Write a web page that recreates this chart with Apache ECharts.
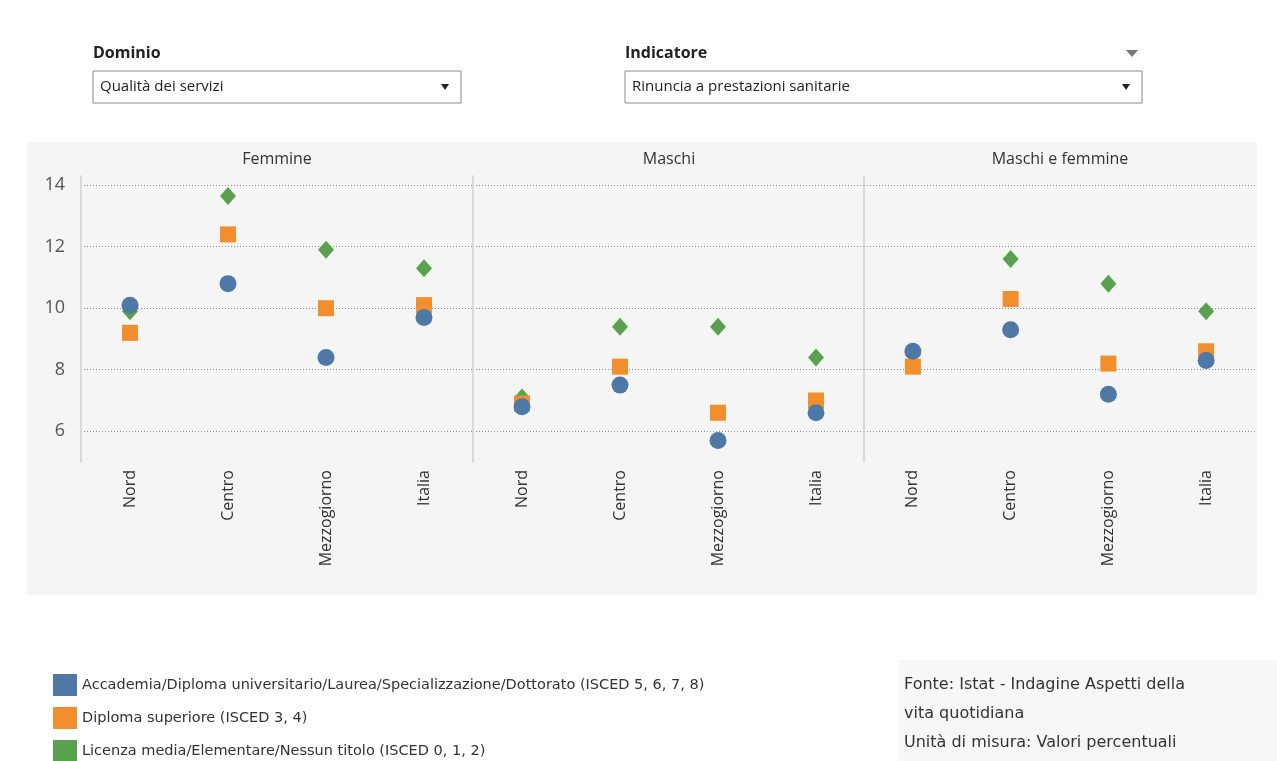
<!DOCTYPE html>
<html><head><meta charset="utf-8">
<script src="https://cdn.jsdelivr.net/npm/echarts@6/dist/echarts.min.js"></script>
<style>html,body{margin:0;background:#fff}#c{width:1277px;height:761px}</style>
</head><body><div id="c"></div>
<script>
var panels = ['Femmine', 'Maschi', 'Maschi e femmine'];
var areas = ['Nord', 'Centro', 'Mezzogiorno', 'Italia'];
var seriesNames = [
  'Accademia/Diploma universitario/Laurea/Specializzazione/Dottorato (ISCED 5, 6, 7, 8)',
  'Diploma superiore (ISCED 3, 4)',
  'Licenza media/Elementare/Nessun titolo (ISCED 0, 1, 2)'
];
// values per panel: [Nord, Centro, Mezzogiorno, Italia]
var laurea = [[10.1, 10.8, 8.4, 9.7], [6.8, 7.5, 5.7, 6.6], [8.6, 9.3, 7.2, 8.3]];
var diploma = [[9.2, 12.4, 10.0, 10.1], [6.9, 8.1, 6.6, 7.0], [8.1, 10.3, 8.2, 8.6]];
var licenza = [[9.9, 13.65, 11.9, 11.3], [7.1, 9.4, 9.4, 8.4], [8.5, 11.6, 10.8, 9.9]];
var yTicks = [6, 8, 10, 12, 14];

var colors = ['#4e79a7', '#f28e2b', '#59a14f'];
var font = '"Open Sans", "Noto Sans", sans-serif';
var wide = '"DejaVu Sans", sans-serif';
var chart = echarts.init(document.getElementById('c'));

var lefts = [81, 473, 864];
var grids = [], xAxes = [], yAxes = [], series = [];
lefts.forEach(function (l, i) {
  grids.push({ left: l, width: (i === 2 ? 391 : 392), top: 176, height: 286 });
  xAxes.push({
    type: 'category', gridIndex: i, data: areas,
    axisLine: { show: false }, axisTick: { show: false },
    axisLabel: { rotate: 90, color: '#333', fontSize: 16, fontFamily: font, margin: 8, interval: 0 }
  });
  yAxes.push({
    type: 'value', gridIndex: i, min: 5, max: 14.3,
    axisLine: { show: true, lineStyle: { color: '#d0d0d0', width: 1.5 } },
    axisTick: { show: false, customValues: yTicks },
    axisLabel: {
      show: i === 0, color: '#555', fontSize: 18, fontFamily: font, margin: 16,
      customValues: yTicks
    },
    splitLine: { show: true, lineStyle: { color: '#8a8a8a', type: [1, 2] } }
  });
  // green first so blue sits on top
  series.push({ name: seriesNames[2], type: 'scatter', xAxisIndex: i, yAxisIndex: i, data: licenza[i],
    symbol: 'diamond', symbolSize: [16, 18], itemStyle: { color: colors[2], opacity: 1 } });
  series.push({ name: seriesNames[1], type: 'scatter', xAxisIndex: i, yAxisIndex: i, data: diploma[i],
    symbol: 'rect', symbolSize: 16, itemStyle: { color: colors[1], opacity: 1 } });
  series.push({ name: seriesNames[0], type: 'scatter', xAxisIndex: i, yAxisIndex: i, data: laurea[i],
    symbol: 'circle', symbolSize: 17, itemStyle: { color: colors[0], opacity: 1 } });
});

function dropdown(x, y, w, label, text) {
  return [
    { type: 'text', left: x, top: y - 26, style: { text: label, font: 'bold 16px ' + font, fill: '#222' } },
    { type: 'rect', shape: { x: x, y: y, width: w, height: 32 }, style: { fill: '#fff', stroke: '#8a8a8a', lineWidth: 1 } },
    { type: 'text', x: x + 7, y: y + 8, style: { text: text, font: '15px ' + font, fill: '#222' } },
    { type: 'polygon', shape: { points: [[x + w - 20, y + 13], [x + w - 12, y + 13], [x + w - 16, y + 19]] }, style: { fill: '#222' } }
  ];
}

var graphic = [
  { type: 'rect', z: -10, shape: { x: 27, y: 142, width: 1230, height: 453 }, style: { fill: '#f5f5f5' } },
  { type: 'rect', z: -10, shape: { x: 898, y: 660, width: 379, height: 101 }, style: { fill: '#f7f7f7' } }
].concat(dropdown(93, 71, 368, 'Dominio', 'Qualità dei servizi'))
 .concat(dropdown(625, 71, 517, 'Indicatore', 'Rinuncia a prestazioni sanitarie'))
 .concat([
  { type: 'polygon', shape: { points: [[1126, 50], [1138, 50], [1132, 57]] }, style: { fill: '#777' } },
  { type: 'text', x: 904, y: 670, style: { text: 'Fonte: Istat - Indagine Aspetti della\nvita quotidiana\nUnità di misura: Valori percentuali',
      font: '16px ' + wide, fill: '#333', lineHeight: 29 } }
 ]);
panels.forEach(function (p, i) {
  graphic.push({ type: 'text', x: lefts[i] + 196, y: 151, style: { text: p, font: '16px ' + font, fill: '#333', align: 'center' } });
});

chart.setOption({
  animation: false,
  grid: grids, xAxis: xAxes, yAxis: yAxes, series: series,
  legend: {
    data: seriesNames, orient: 'vertical', left: 48, top: 669, height: 100, width: 800, icon: 'rect',
    itemWidth: 24, itemHeight: 22, itemGap: 11,
    textStyle: { color: '#333', fontSize: 14.5, fontFamily: wide }
  },
  graphic: graphic
});
</script></body></html>
